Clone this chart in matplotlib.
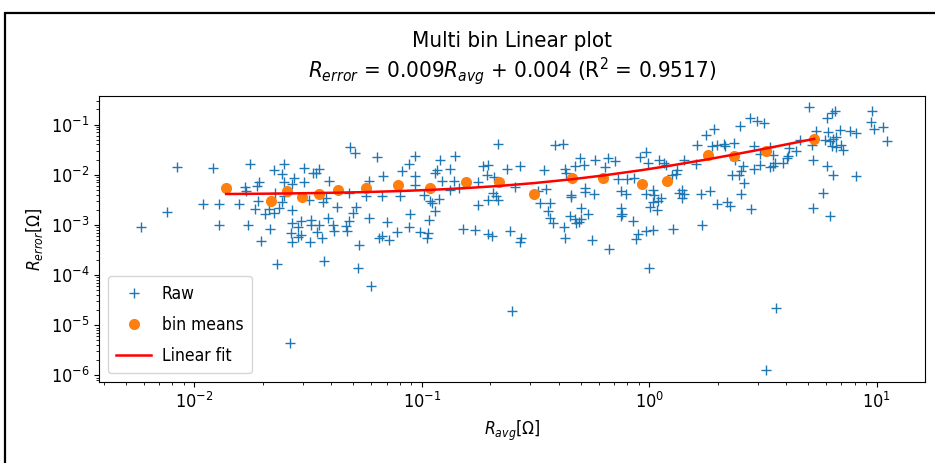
import matplotlib
matplotlib.use("Agg")
import matplotlib.pyplot as plt
from matplotlib.patches import Rectangle
import numpy as np

# ---- raw data (R_avg [Ohm], R_error [Ohm]) ----
raw_x = [
    0.00843, 0.0121, 0.0176, 0.0223, 0.0247, 0.0243, 0.0303, 0.0333, 0.0273, 0.0302,
    0.0268, 0.0193, 0.0188, 0.0167, 0.0169, 0.0227, 0.0249, 0.0191, 0.0109, 0.0129,
    0.0157, 0.00757, 0.00581, 0.0128, 0.0172, 0.0185, 0.0205, 0.0212, 0.0216, 0.0197,
    0.0231, 0.0223, 0.0235, 0.0243, 0.0247, 0.027, 0.0268, 0.0294, 0.0287, 0.0267,
    0.0287, 0.027, 0.0323, 0.0326, 0.0326, 0.0318, 0.0295, 0.0263,
    0.0484, 0.0509, 0.0634, 0.0932, 0.0877, 0.1205, 0.14, 0.216, 0.1167, 0.1324,
    0.1866, 0.196, 0.238, 0.27, 0.193, 0.082, 0.0678, 0.0937, 0.1146, 0.138,
    0.176, 0.208, 0.0343, 0.0355, 0.0392, 0.0586, 0.0937, 0.102, 0.1227, 0.1334,
    0.145, 0.257, 0.048, 0.0567, 0.067, 0.0805, 0.1186, 0.109, 0.111, 0.176,
    0.196, 0.213, 0.217, 0.206, 0.0366, 0.0379, 0.0422, 0.05, 0.0513, 0.048,
    0.0386, 0.0405, 0.0412, 0.0464, 0.0471, 0.0355, 0.0345, 0.0364, 0.0586, 0.0705,
    0.0891, 0.0877, 0.108, 0.114, 0.078, 0.0984, 0.107, 0.105, 0.0649, 0.067,
    0.0718, 0.053, 0.152, 0.171, 0.196, 0.203, 0.244, 0.27, 0.274, 0.0373,
    0.0526, 0.0596, 0.248,
    0.384, 0.418, 1.768, 1.923, 1.614, 1.89, 1.99, 2.13, 2.16, 2.35,
    0.966, 0.912, 0.984, 0.494, 0.47, 0.519, 0.578, 0.661, 0.708, 0.641,
    0.345, 0.425, 0.432, 1.105, 1.155, 1.182, 1.42, 1.33, 1.307, 1.264,
    1.6, 0.726, 0.798, 0.853, 0.353, 0.323, 0.523, 0.52, 0.57, 0.454,
    0.451, 0.752, 0.791, 0.966, 1.034, 1.05, 1.087, 1.124, 1.034, 1.01,
    1.08, 1.35, 1.399, 1.42, 1.682, 1.846, 1.99, 2.2, 2.27, 1.71,
    1.277, 0.966, 1.034, 0.889, 0.874, 0.999, 0.752, 0.762, 0.748, 0.845,
    0.668, 0.56, 0.502, 0.537, 0.489, 0.502, 0.47, 0.447, 0.478, 0.422,
    0.425, 0.33, 0.365, 0.357, 0.365, 0.378, 1.399,
    5.05, 6.06, 6.33, 6.54, 9.57, 9.47, 9.69, 10.7, 11.1, 7.61,
    8.09, 6.89, 6.12, 5.92, 6.22, 6.43, 6.61, 7.0, 7.12, 6.33,
    6.65, 5.41, 5.18, 5.23, 6.02, 6.43, 8.09, 5.82, 5.26, 6.22,
    4.6, 4.13, 4.42, 4.09, 4.05, 3.89, 3.58, 3.49, 3.38, 3.08,
    2.88, 2.59, 2.52, 2.47, 2.31, 2.62, 2.52, 2.8, 2.5, 2.76,
    2.99, 3.2, 2.9, 3.08, 3.4, 3.49, 2.37, 3.61, 3.27,
]
raw_y = [
    0.0145, 0.0138, 0.0166, 0.0124, 0.0161, 0.0105, 0.0138, 0.011, 0.0087, 0.00714,
    0.00652, 0.00714, 0.00584, 0.00558, 0.00464, 0.00423, 0.00714, 0.00302, 0.00259, 0.00259,
    0.00259, 0.00182, 0.000927, 0.000986, 0.000986, 0.00206, 0.00164, 0.00206, 0.00082, 0.000485,
    0.000164, 0.00171, 0.00216, 0.00292, 0.00368, 0.002, 0.00111, 0.0012, 0.000927, 0.000682,
    0.000585, 0.000464, 0.000464, 0.00126, 0.001, 0.00316, 0.00063, 4.36e-6,
    0.0358, 0.0272, 0.0229, 0.024, 0.0164, 0.0197, 0.024, 0.0411, 0.0126, 0.0132,
    0.0147, 0.0158, 0.0132, 0.0147, 0.01, 0.0117, 0.00927, 0.00927, 0.0108, 0.00759,
    0.00714, 0.00885, 0.0108, 0.0132, 0.0076, 0.0076, 0.0063, 0.00398, 0.00735, 0.00501,
    0.00542, 0.00557, 0.0043, 0.00368, 0.0038, 0.00368, 0.00331, 0.00302, 0.00272, 0.00251,
    0.00316, 0.00368, 0.00316, 0.0043, 0.00292, 0.00342, 0.00232, 0.00171, 0.00232, 0.0012,
    0.0014, 0.001, 0.00075, 0.00094, 0.00075, 0.001, 0.00071, 0.00056, 0.0014, 0.00116,
    0.00164, 0.000927, 0.00126, 0.00185, 0.00073, 0.00073, 0.00068, 0.00056, 0.00054, 0.00059,
    0.0005, 0.000398, 0.00082, 0.00079, 0.00065, 0.00059, 0.00075, 0.00046, 0.00054, 0.000193,
    0.000136, 6.0e-5, 1.93e-5,
    0.0398, 0.0411, 0.063, 0.082, 0.0386, 0.0368, 0.0398, 0.0411, 0.0368, 0.043,
    0.0284, 0.0222, 0.0171, 0.0216, 0.0147, 0.0158, 0.02, 0.0216, 0.0184, 0.014,
    0.0126, 0.0132, 0.0108, 0.02, 0.0171, 0.0158, 0.02, 0.0126, 0.0103, 0.01,
    0.0164, 0.0083, 0.0083, 0.0086, 0.00525, 0.00464, 0.00542, 0.00451, 0.00411, 0.00398,
    0.00352, 0.00464, 0.00411, 0.00411, 0.005, 0.00398, 0.00302, 0.00342, 0.00292, 0.00232,
    0.002, 0.0043, 0.005, 0.00411, 0.00411, 0.00464, 0.00259, 0.00292, 0.00243, 0.001,
    0.00082, 0.00076, 0.00079, 0.00065, 0.000525, 0.00014, 0.00216, 0.00164, 0.00147, 0.0012,
    0.000331, 0.0005, 0.00216, 0.00164, 0.00116, 0.00132, 0.00132, 0.00147, 0.00108, 0.000927,
    0.000542, 0.00272, 0.00272, 0.00185, 0.0014, 0.00108, 0.00342,
    0.222, 0.132, 0.171, 0.185, 0.19, 0.113, 0.082, 0.088, 0.0463, 0.0759,
    0.0682, 0.0794, 0.0714, 0.0501, 0.0464, 0.0525, 0.0557, 0.0398, 0.0316, 0.0368,
    0.0352, 0.0735, 0.0386, 0.02, 0.0147, 0.01, 0.00955, 0.0043, 0.00216, 0.00147,
    0.0501, 0.0342, 0.0292, 0.0232, 0.0216, 0.0171, 0.0171, 0.0151, 0.014, 0.0158,
    0.0132, 0.0151, 0.012, 0.01, 0.01, 0.00682, 0.00411, 0.00206, 0.0925, 0.132,
    0.12, 0.108, 0.0368, 0.0259, 0.0352, 0.0243, 0.02, 2.25e-5, 1.3e-6,
]

# ---- bin means ----
bin_x = [0.0138, 0.0217, 0.0256, 0.0298, 0.0355, 0.043, 0.057, 0.0785, 0.109, 0.156,
         0.219, 0.312, 0.457, 0.625, 0.925, 1.2, 1.816, 2.35, 3.27, 5.31]
bin_y = [0.00542, 0.00306, 0.00464, 0.00358, 0.00411, 0.00485, 0.00542, 0.0063, 0.00542, 0.00702,
         0.00702, 0.00411, 0.0086, 0.0086, 0.0066, 0.00759, 0.0251, 0.0232, 0.0302, 0.0525]

# ---- linear fit coefficients (from title) ----
fit_slope = 0.009
fit_intercept = 0.004
r_squared = 0.9517

plt.rcParams['font.family'] = ['DejaVu Sans']
plt.rcParams['font.stretch'] = 'condensed'
plt.rcParams['mathtext.fontset'] = 'custom'
plt.rcParams['mathtext.rm'] = 'DejaVu Sans:stretch=condensed'
plt.rcParams['mathtext.it'] = 'DejaVu Sans:style=oblique:stretch=condensed'
plt.rcParams['mathtext.bf'] = 'DejaVu Sans:weight=bold:stretch=condensed'
plt.rcParams['mathtext.sf'] = 'DejaVu Sans:stretch=condensed'

W, H = 935, 463
fig = plt.figure(figsize=(W / 100, H / 100), dpi=100)
ax = fig.add_axes([99 / W, 1 - 382 / H, (925 - 99) / W, (382 - 96) / H])

ax.plot(raw_x, raw_y, '+', color='#1f77b4', markersize=7, label='Raw')
ax.plot(bin_x, bin_y, 'o', color='#ff7f0e', markersize=7, label='bin means')
bx = np.array(bin_x)
ax.plot(bx, fit_slope * bx + fit_intercept, '-', color='red', linewidth=1.8, label='Linear fit')

ax.set_xscale('log')
ax.set_yscale('log')
ax.set_xlim(0.00381, 16.3)
ax.set_ylim(7.4e-7, 0.37)

ax.tick_params(labelsize=13)
ax.set_xlabel(r'$R_{avg}[\Omega]$', fontsize=12.5, labelpad=5)
ax.set_ylabel(r'$R_{error}[\Omega]$', fontsize=12.5)
ax.set_title('Multi bin Linear plot\n'
             r'$R_{error}$ = ' + f'{fit_slope}' + r'$R_{avg}$ + ' + f'{fit_intercept}' +
             r' (R$^2$ = ' + f'{r_squared}' + ')', fontsize=16, linespacing=1.17, pad=13.5)
ax.legend(loc='lower left', fontsize=12.5, labelspacing=0.75, borderpad=0.5,
          handletextpad=0.6)

fig.patches.append(Rectangle((5 / W, -0.2), 1.5, 1 - 13 / H + 0.2, transform=fig.transFigure,
                             fill=False, edgecolor='black', linewidth=1.6, clip_on=False))

fig.savefig('out.png', dpi=100)
